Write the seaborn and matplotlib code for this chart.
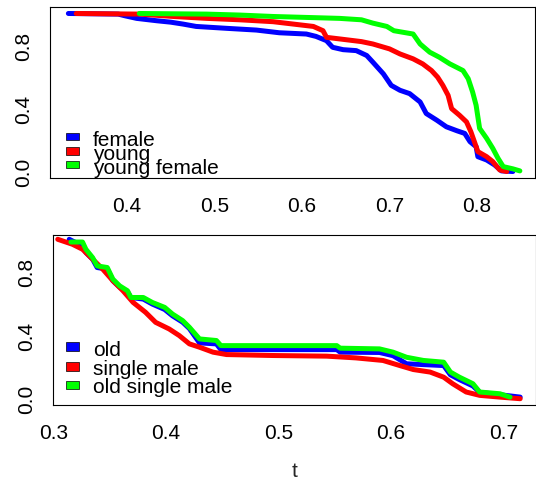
import numpy as np
import pandas as pd
import matplotlib
matplotlib.use("Agg")
import matplotlib.pyplot as plt
from matplotlib.patches import Rectangle
import seaborn as sns

# ---------------- data ----------------
# top panel
female_t = [0.333, 0.390, 0.398, 0.411, 0.434, 0.450, 0.464, 0.479, 0.514, 0.548, 0.574,
            0.605, 0.616, 0.628, 0.635, 0.647, 0.662, 0.674, 0.681, 0.693, 0.702, 0.712,
            0.723, 0.735, 0.742, 0.754, 0.765, 0.777, 0.786, 0.792, 0.799, 0.801, 0.811,
            0.820, 0.828, 0.841]
female_s = [1.0, 0.996, 0.985, 0.969, 0.954, 0.945, 0.933, 0.918, 0.906, 0.895, 0.878,
            0.870, 0.855, 0.828, 0.786, 0.771, 0.765, 0.734, 0.692, 0.618, 0.545, 0.514,
            0.493, 0.440, 0.367, 0.325, 0.283, 0.258, 0.241, 0.189, 0.157, 0.094, 0.073,
            0.042, 0.004, 0.0]

young_t = [0.342, 0.414, 0.453, 0.491, 0.529, 0.567, 0.590, 0.613, 0.624, 0.628, 0.643,
           0.668, 0.681, 0.700, 0.712, 0.727, 0.738, 0.748, 0.755, 0.761, 0.767, 0.771,
           0.780, 0.788, 0.793, 0.797, 0.801, 0.811, 0.818, 0.826, 0.834]
young_s = [1.0, 0.996, 0.981, 0.969, 0.960, 0.948, 0.933, 0.918, 0.891, 0.849, 0.839,
           0.822, 0.807, 0.776, 0.744, 0.713, 0.681, 0.639, 0.597, 0.545, 0.482, 0.398,
           0.356, 0.314, 0.252, 0.189, 0.126, 0.094, 0.063, 0.010, 0.0]

young_female_t = [0.414, 0.491, 0.529, 0.567, 0.605, 0.643, 0.668, 0.681, 0.697, 0.705,
                  0.727, 0.735, 0.746, 0.757, 0.769, 0.784, 0.790, 0.795, 0.799, 0.803,
                  0.811, 0.818, 0.824, 0.830, 0.841, 0.849]
young_female_s = [1.0, 0.996, 0.990, 0.981, 0.975, 0.969, 0.960, 0.939, 0.918, 0.891,
                  0.870, 0.807, 0.755, 0.723, 0.681, 0.639, 0.587, 0.503, 0.419, 0.273,
                  0.210, 0.147, 0.084, 0.031, 0.017, 0.004]

# bottom panel
old_t = [0.3142, 0.326, 0.329, 0.335, 0.339, 0.348, 0.353, 0.359, 0.366, 0.369, 0.380,
         0.388, 0.399, 0.406, 0.415, 0.421, 0.430, 0.445, 0.449, 0.552, 0.555, 0.590,
         0.602, 0.614, 0.647, 0.653, 0.661, 0.673, 0.679, 0.697, 0.715]
old_s = [1.0, 0.958, 0.917, 0.875, 0.823, 0.813, 0.74, 0.70, 0.67, 0.635, 0.625,
         0.594, 0.56, 0.52, 0.48, 0.44, 0.35, 0.344, 0.308, 0.308, 0.292, 0.290,
         0.27, 0.219, 0.208, 0.15, 0.12, 0.08, 0.04, 0.025, 0.010]

single_male_t = [0.304, 0.317, 0.326, 0.335, 0.344, 0.353, 0.362, 0.371, 0.382, 0.391,
                 0.403, 0.412, 0.421, 0.430, 0.442, 0.454, 0.495, 0.543, 0.569, 0.593,
                 0.608, 0.620, 0.635, 0.647, 0.655, 0.667, 0.679, 0.697, 0.715]
single_male_s = [1.0, 0.969, 0.9375, 0.875, 0.8125, 0.740, 0.677, 0.604, 0.542, 0.479,
                 0.4375, 0.396, 0.344, 0.323, 0.292, 0.277, 0.271, 0.267, 0.256, 0.240,
                 0.208, 0.183, 0.167, 0.135, 0.094, 0.042, 0.021, 0.010, 0.0]

old_single_male_t = [0.3157, 0.326, 0.329, 0.335, 0.339, 0.348, 0.353, 0.359, 0.366, 0.369,
                     0.380, 0.388, 0.399, 0.406, 0.415, 0.421, 0.430, 0.445, 0.449, 0.552,
                     0.555, 0.590, 0.602, 0.614, 0.629, 0.647, 0.653, 0.661, 0.673, 0.679,
                     0.697, 0.706]
old_single_male_s = [0.983, 0.983, 0.9375, 0.885, 0.833, 0.823, 0.75, 0.708, 0.677, 0.635,
                     0.635, 0.604, 0.573, 0.531, 0.490, 0.448, 0.375, 0.365, 0.333, 0.333,
                     0.317, 0.3125, 0.292, 0.260, 0.240, 0.229, 0.167, 0.135, 0.094, 0.042,
                     0.031, 0.010]

top_labels = ["female", "young", "young female"]
bottom_labels = ["old", "single male", "old single male"]
colors = ["#0000FF", "#FF0000", "#00FF00"]
y_ticks = [0.0, 0.2, 0.4, 0.6, 0.8, 1.0]
y_ticklabels = ["0.0", "", "0.4", "", "0.8", ""]
top_xticks = [0.4, 0.5, 0.6, 0.7, 0.8]
bottom_xticks = [0.3, 0.4, 0.5, 0.6, 0.7]

# ---------------- style ----------------
sns.set_theme(style="white")
plt.rcParams["font.family"] = ["Liberation Sans", "DejaVu Sans"]
plt.rcParams["font.size"] = 15

W, H = 536, 481
fig = plt.figure(figsize=(W / 100, H / 100), dpi=100)
fig.patch.set_facecolor("white")


def frac_box(l, t, r, b):
    return [l / W, 1 - b / H, (r - l) / W, (b - t) / H]


ax1 = fig.add_axes(frac_box(50, 8, 535, 179))
ax2 = fig.add_axes(frac_box(52.7, 236, 535.7, 405.7))


def make_df(ts, ss, labels):
    frames = []
    for t, s, lab in zip(ts, ss, labels):
        frames.append(pd.DataFrame({"t": t, "s": s, "group": lab}))
    return pd.concat(frames, ignore_index=True)


df_top = make_df([female_t, young_t, young_female_t],
                 [female_s, young_s, young_female_s], top_labels)
df_bot = make_df([old_t, single_male_t, old_single_male_t],
                 [old_s, single_male_s, old_single_male_s], bottom_labels)

for ax, df, labels in [(ax1, df_top, top_labels), (ax2, df_bot, bottom_labels)]:
    sns.lineplot(data=df, x="t", y="s", hue="group", hue_order=labels,
                 palette=colors, estimator=None, sort=False, linewidth=3.6,
                 legend=False, ax=ax, solid_capstyle="round", solid_joinstyle="round")
    ax.set_ylabel("")
    ax.set_xlabel("")
    ax.set_yticks(y_ticks)
    ax.set_yticklabels(y_ticklabels, rotation=90, va="center")
    for sp in ax.spines.values():
        sp.set_visible(True)
        sp.set_color("black")
        sp.set_linewidth(0.8)
    ax.tick_params(axis="both", direction="out", length=5.5, width=0.75,
                   color="black", labelsize=15, labelcolor="black")
    ax.tick_params(axis="x", pad=7.5)
    ax.tick_params(axis="y", pad=6.5)
    ax.grid(False)
    ax.set_facecolor("white")

ax1.set_xticks(top_xticks)
ax1.set_xticklabels([f"{v:.1f}" for v in top_xticks])
ax1.set_xlim(0.312, 0.8663)
ax1.set_ylim(-0.041, 1.041)

ax2.set_xticks(bottom_xticks)
ax2.set_xticklabels([f"{v:.1f}" for v in bottom_xticks])
ax2.set_xlim(0.2995, 0.7288)
ax2.set_ylim(-0.0376, 1.027)
ax2.set_xlabel("t", fontsize=15, labelpad=13.5)


# ---------------- legends (R-style filled boxes, no frame) ----------------
def draw_legend(labels, box_centers, baselines, box_h):
    for lab, col, cy, by in zip(labels, colors, box_centers, baselines):
        fig.patches.append(Rectangle((66 / W, 1 - (cy + box_h / 2) / H),
                                     12.5 / W, box_h / H,
                                     transform=fig.transFigure, facecolor=col,
                                     edgecolor="black", linewidth=0.5))
        fig.text(92.7 / W, 1 - by / H, lab, fontsize=15, ha="left",
                 va="baseline", color="black")


draw_legend(top_labels, [137.5, 152, 165.5], [146, 160.5, 174], 7.5)
draw_legend(bottom_labels, [347.5, 367.5, 386], [356, 375, 393.5], 8.5)

fig.savefig("out.png", dpi=100, facecolor="white")
